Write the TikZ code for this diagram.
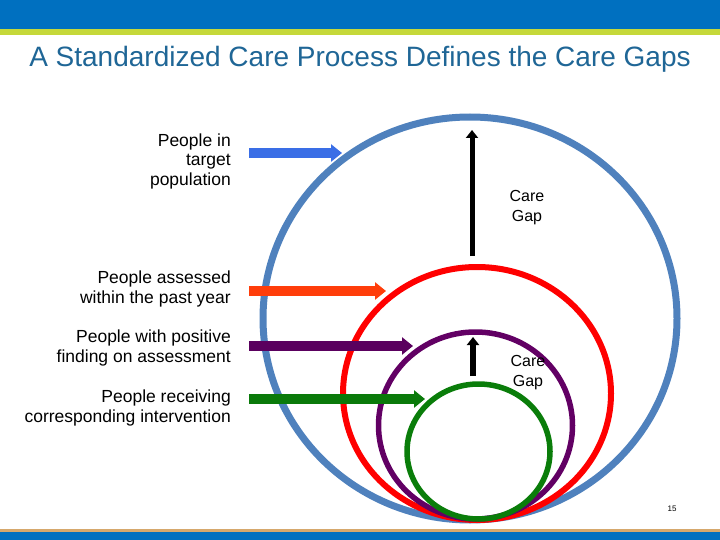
\documentclass[tikz,border=0pt]{standalone}
\usepackage{fontspec}
\setmainfont{Liberation Sans}
\usetikzlibrary{arrows.meta}
\definecolor{topblue}{HTML}{0070C0}
\definecolor{limeband}{HTML}{C5D83A}
\definecolor{tanband}{HTML}{D6A86C}
\definecolor{titleblue}{HTML}{1F6696}
\definecolor{ringblue}{HTML}{4F81BD}
\definecolor{ringred}{HTML}{FF0000}
\definecolor{ringpurple}{HTML}{620064}
\definecolor{ringgreen}{HTML}{0A7D0A}
\definecolor{arrowblue}{HTML}{3A6EE6}
\definecolor{arroworange}{HTML}{FF3D0A}
\definecolor{arrowpurple}{HTML}{5A005E}
\definecolor{arrowgreen}{HTML}{0A7A0A}
\tikzset{
  lbl/.style={inner sep=0pt, align=right, anchor=east, font=\fontsize{17.5}{19.5}\selectfont},
  gaplbl/.style={inner sep=0pt, align=center, font=\fontsize{16}{20}\selectfont},
  blockarrow/.style={line width=10pt, -{Triangle[length=11pt,width=17pt]}},
  gaparrow/.style={line width=5pt, black, -{Triangle[length=8pt,width=12pt]}},
}
\begin{document}
\begin{tikzpicture}[x=1pt,y=-1pt]
\useasboundingbox (0,0) rectangle (720,540);
% bands
\fill[topblue] (0,0) rectangle (720,29);
\fill[limeband] (0,29) rectangle (720,35);
\fill[tanband] (0,529) rectangle (720,532);
\fill[topblue] (0,532) rectangle (720,540);
% title
\node[font=\fontsize{28}{30}\selectfont, text=titleblue, inner sep=0pt] (title) at (360,59) {A Standardized Care Process Defines the Care Gaps};
% rings
\draw[ringblue, line width=7pt] (470,318.5) ellipse [x radius=207pt, y radius=201.5pt];
\draw[ringred, line width=6pt] (477,393.5) ellipse [x radius=134pt, y radius=126.5pt];
\draw[ringpurple, line width=5.5pt] (475.5,425.5) ellipse [x radius=97pt, y radius=93.5pt];
\draw[ringgreen, line width=5.5pt] (478.5,451.5) ellipse [x radius=71.5pt, y radius=67.5pt];
% labels
\node[lbl] (l1) at (231,161) {People in\\target\\population};
\node[lbl] (l2) at (231,289) {People assessed\\within the past year};
\node[lbl] (l3) at (231,348) {People with positive\\finding on assessment};
\node[lbl] (l4) at (231,408) {People receiving\\corresponding intervention};
% arrow endpoints
\coordinate (a1s) at (249,153); \coordinate (a1e) at (342,153);
\coordinate (a2s) at (249,291); \coordinate (a2e) at (386,291);
\coordinate (a3s) at (249,346); \coordinate (a3e) at (413,346);
\coordinate (a4s) at (249,399); \coordinate (a4e) at (425,399);
\draw[blockarrow, arrowblue] (a1s) -- (a1e);
\draw[blockarrow, arroworange] (a2s) -- (a2e);
\draw[blockarrow, arrowpurple] (a3s) -- (a3e);
\draw[blockarrow, arrowgreen] (a4s) -- (a4e);
% care gaps
\coordinate (g1s) at (472,256); \coordinate (g1e) at (472,130);
\coordinate (g2s) at (473,376); \coordinate (g2e) at (473,337);
\draw[gaparrow] (g1s) -- (g1e);
\draw[gaparrow, line width=6pt] (g2s) -- (g2e);
\node[gaplbl] (c1) at (527,208) {Care\\Gap};
\node[gaplbl] (c2) at (528,372.5) {Care\\Gap};
% page number
\node[font=\fontsize{8}{9}\selectfont, inner sep=0pt] (pg) at (672,509) {15};
\end{tikzpicture}
\end{document}
